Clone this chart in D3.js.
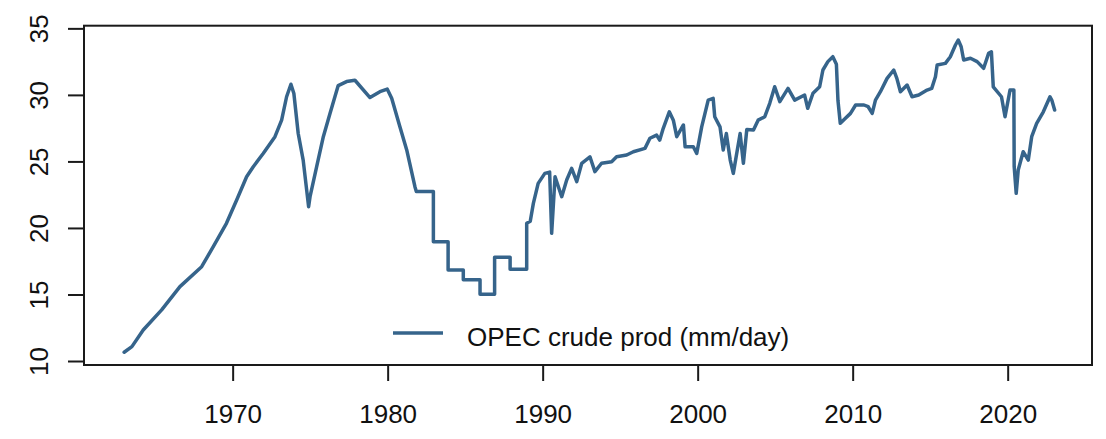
<!DOCTYPE html>
<html>
<head>
<meta charset="utf-8">
<script src="https://cdn.jsdelivr.net/npm/d3@7"></script>
<style>
  html, body { margin: 0; padding: 0; background: #fff; }
  svg { display: block; }
  text { font-family: "Liberation Sans", Arial, sans-serif; fill: #111; }
</style>
</head>
<body>
<svg id="chart" width="1106" height="439"></svg>
<script>
// ---- data ----
const years = [
  1963.00, 1963.50, 1964.23, 1965.42, 1966.60, 1968.00, 1968.75, 1969.60, 1970.26, 1970.90,
  1971.33, 1971.97, 1972.73, 1973.16, 1973.48, 1973.76, 1973.95, 1974.23, 1974.55, 1974.90,
  1975.00, 1975.42, 1975.85, 1976.28, 1976.81, 1977.35, 1977.89, 1978.86, 1979.50, 1979.97,
  1980.26, 1980.79, 1981.23, 1981.76, 1981.85, 1982.95, 1982.95, 1983.90, 1983.90, 1984.88,
  1984.88, 1985.96, 1985.96, 1986.90, 1986.90, 1987.90, 1987.90, 1988.97, 1988.97, 1989.20,
  1989.40, 1989.71, 1990.14, 1990.45, 1990.58, 1990.80, 1991.23, 1991.55, 1991.87, 1992.20,
  1992.52, 1993.05, 1993.37, 1993.80, 1994.45, 1994.77, 1995.42, 1995.85, 1996.60, 1996.92,
  1997.35, 1997.55, 1997.78, 1998.17, 1998.43, 1998.65, 1999.08, 1999.19, 1999.72, 1999.94,
  2000.26, 2000.68, 2001.00, 2001.10, 2001.44, 2001.65, 2001.85, 2002.10, 2002.30, 2002.74,
  2002.95, 2003.17, 2003.60, 2003.90, 2004.33, 2004.65, 2004.97, 2005.30, 2005.83, 2006.26,
  2006.90, 2007.10, 2007.44, 2007.87, 2008.08, 2008.40, 2008.72, 2008.95, 2009.05, 2009.20,
  2009.40, 2009.86, 2010.19, 2010.73, 2011.00, 2011.26, 2011.47, 2011.79, 2012.22, 2012.65,
  2012.85, 2013.08, 2013.51, 2013.83, 2014.26, 2014.80, 2015.10, 2015.34, 2015.45, 2015.98,
  2016.30, 2016.63, 2016.81, 2017.00, 2017.16, 2017.60, 2018.03, 2018.45, 2018.77, 2018.95,
  2019.07, 2019.60, 2019.83, 2020.15, 2020.40, 2020.42, 2020.55, 2020.68, 2021.00, 2021.33,
  2021.55, 2021.87, 2022.30, 2022.73, 2022.85, 2023.03
];
const opecProd = [
  10.66, 11.08, 12.33, 13.84, 15.59, 17.09, 18.59, 20.35, 22.10, 23.85,
  24.60, 25.60, 26.86, 28.10, 29.86, 30.80, 30.10, 27.10, 25.10, 21.60,
  22.40, 24.60, 26.86, 28.60, 30.70, 31.00, 31.10, 29.80, 30.24, 30.44,
  29.74, 27.60, 25.86, 23.10, 22.73, 22.73, 18.97, 18.97, 16.84, 16.84,
  16.10, 16.10, 15.01, 15.01, 17.80, 17.80, 16.90, 16.90, 20.35, 20.50,
  21.85, 23.35, 24.10, 24.20, 19.60, 23.85, 22.35, 23.60, 24.48, 23.48,
  24.86, 25.35, 24.23, 24.86, 24.98, 25.35, 25.48, 25.73, 25.98, 26.74,
  26.98, 26.60, 27.49, 28.73, 28.10, 26.86, 27.74, 26.10, 26.10, 25.60,
  27.60, 29.61, 29.74, 28.36, 27.60, 25.86, 27.10, 25.10, 24.10, 27.10,
  24.86, 27.40, 27.36, 28.10, 28.36, 29.37, 30.61, 29.49, 30.49, 29.61,
  29.99, 28.99, 30.12, 30.61, 31.87, 32.50, 32.87, 32.30, 29.60, 27.86,
  28.10, 28.61, 29.24, 29.24, 29.11, 28.61, 29.61, 30.24, 31.24, 31.87,
  31.24, 30.24, 30.74, 29.86, 29.99, 30.36, 30.49, 31.37, 32.24, 32.37,
  32.87, 33.75, 34.12, 33.62, 32.62, 32.75, 32.50, 32.00, 33.12, 33.24,
  30.60, 29.86, 28.36, 30.36, 30.36, 24.60, 22.60, 24.35, 25.73, 25.10,
  26.86, 27.86, 28.73, 29.86, 29.60, 28.86
];
const xTickValues = [1970, 1980, 1990, 2000, 2010, 2020];
const yTickValues = [10, 15, 20, 25, 30, 35];
const seriesName = "OPEC crude prod (mm/day)";

// ---- layout ----
const box = { left: 84, right: 1092, top: 25.7, bottom: 365 };
const lineColor = "#36648B";

const svg = d3.select("#chart");

const x = d3.scaleLinear().domain([1960.41, 2025.44]).range([box.left, box.right]);
const y = d3.scaleLinear().domain([9.7, 35.2]).range([box.bottom, box.top]);

const data = years.map((yr, i) => ({ yr, v: opecProd[i] }));

// series line
const line = d3.line().x(d => x(d.yr)).y(d => y(d.v));
svg.append("path")
  .datum(data)
  .attr("d", line)
  .attr("fill", "none")
  .attr("stroke", lineColor)
  .attr("stroke-width", 3.5)
  .attr("stroke-linejoin", "round")
  .attr("stroke-linecap", "round");

// axes
const xAxis = svg.append("g")
  .attr("transform", `translate(0,${box.bottom})`)
  .call(d3.axisBottom(x).tickValues(xTickValues).tickFormat(d3.format("d")).tickSize(16));
xAxis.select(".domain").remove();
xAxis.selectAll(".tick line").attr("stroke", "#1a1a1a").attr("stroke-width", 2);
xAxis.selectAll(".tick text")
  .attr("y", 58).attr("dy", 0)
  .attr("font-size", 26)
  .attr("font-family", "Liberation Sans, Arial, sans-serif")
  .attr("fill", "#111");

const yAxis = svg.append("g")
  .attr("transform", `translate(${box.left},0)`)
  .call(d3.axisLeft(y).tickValues(yTickValues).tickFormat(d3.format("d")).tickSize(16));
yAxis.select(".domain").remove();
yAxis.selectAll(".tick line").attr("stroke", "#1a1a1a").attr("stroke-width", 2);
yAxis.selectAll(".tick text")
  .attr("transform", "rotate(-90)")
  .attr("x", 0).attr("y", -36).attr("dy", 0)
  .attr("text-anchor", "middle")
  .attr("font-size", 26)
  .attr("font-family", "Liberation Sans, Arial, sans-serif")
  .attr("fill", "#111");

// plot box
svg.append("rect")
  .attr("x", box.left).attr("y", box.top)
  .attr("width", box.right - box.left).attr("height", box.bottom - box.top)
  .attr("fill", "none")
  .attr("stroke", "#1a1a1a")
  .attr("stroke-width", 2);

// legend
const legend = svg.append("g");
legend.append("line")
  .attr("x1", 393).attr("x2", 443).attr("y1", 333).attr("y2", 333)
  .attr("stroke", lineColor).attr("stroke-width", 3.5);
legend.append("text")
  .attr("x", 467).attr("y", 346)
  .attr("font-size", 26)
  .text(seriesName);
</script>
</body>
</html>
